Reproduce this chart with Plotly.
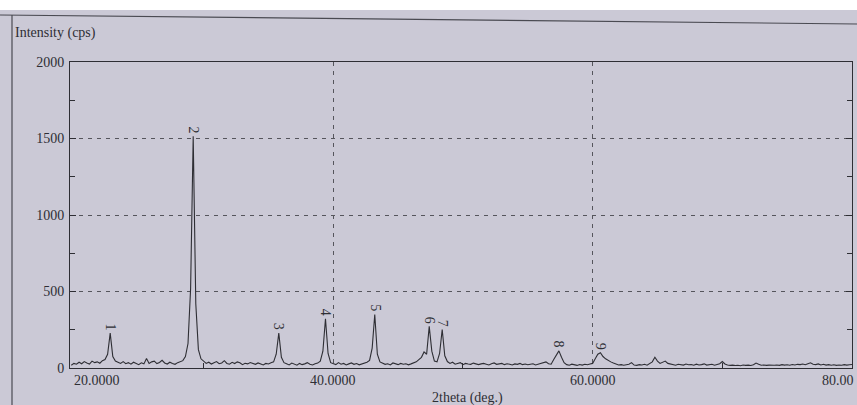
import numpy as np
import plotly.graph_objects as go

# ---------------- data ----------------
start_angle = 19.8   # first sampled 2theta (deg)
step_angle = 0.2     # sampling step (deg)

intensity = [
    # 19.8 - 22.0
    18, 30, 25, 38, 28, 42, 33, 26, 45, 35, 40, 31,
    # 22.2 - 23.4 (peak 1)
    48, 55, 90, 228, 75, 45, 38,
    # 23.6 - 28.4
    30, 42, 28, 35, 25, 38, 31, 22, 34, 27, 62, 30, 40, 45, 29, 36, 50, 33, 26, 38, 30, 24, 35, 40, 48,
    # 28.6 - 29.8 (peak 2)
    75, 160, 520, 1515, 420, 120, 60,
    # 30.0 - 35.4
    45, 30, 38, 26, 35, 42, 28, 33, 48, 30, 25, 37, 29, 40, 34, 22, 31, 27, 36, 30, 24, 33, 28, 20, 30, 26, 35, 40,
    # 35.6 - 36.2 (peak 3)
    90, 228, 70, 35,
    # 36.4 - 39.0
    28, 20, 32, 25, 18, 30, 22, 27, 35, 24, 20, 28, 32, 45,
    # 39.2 - 39.8 (peak 4)
    110, 322, 95, 35,
    # 40.0 - 42.8
    28, 22, 35, 25, 30, 20, 27, 33, 24, 29, 21, 26, 31, 38, 50,
    # 43.0 - 43.6 (peak 5)
    130, 350, 90, 40,
    # 43.8 - 46.6
    30, 24, 28, 20, 33, 26, 22, 30, 25, 28, 21, 27, 32, 40, 55,
    # 46.8 - 48.8 (peaks 6 and 7)
    70, 105, 90, 272, 110, 45, 40, 95, 252, 80, 42,
    # 49.0 - 56.8
    30, 38, 25, 28, 35, 22, 30, 26, 24, 32, 28, 22, 27, 30, 25, 20, 28, 33, 24, 26,
    30, 22, 28, 25, 20, 27, 24, 30, 22, 26, 21, 25, 28, 20, 24, 30, 35, 40, 28, 25,
    # 57.0 - 57.8 (peak 8)
    55, 80, 112, 70, 35,
    # 58.0 - 60.0
    22, 18, 25, 20, 17, 23, 19, 24, 21, 26, 30,
    # 60.2 - 61.6 (peak 9)
    60, 90, 100, 75, 60, 48, 40, 32,
    # 61.8 - 64.4
    25, 20, 22, 18, 21, 24, 35, 19, 17, 22, 20, 24, 18, 28,
    # 64.6 - 66.0
    40, 70, 45, 30, 35, 45, 30, 25,
    # 66.2 - 80.0
    20, 18, 24, 22, 19, 26, 21, 23, 18, 25, 20, 22, 27, 19, 21, 24, 18, 22, 28, 42,
    26, 20, 17, 19, 16, 18, 15, 20, 17, 19, 16, 21, 32, 24, 18, 20, 17, 19, 16, 18,
    20, 17, 22, 19, 21, 18, 23, 20, 24, 22, 26, 21, 28, 34, 25, 22, 27, 20, 24, 19,
    22, 18, 21, 17, 20, 18, 22, 19, 21, 23,
]
assert len(intensity) == 302, len(intensity)
two_theta = np.round(start_angle + step_angle * np.arange(len(intensity)), 2)

peak_numbers = ["1", "2", "3", "4", "5", "6", "7", "8", "9"]
peak_positions = [22.8, 29.2, 35.8, 39.4, 43.2, 47.4, 48.4, 57.4, 60.6]
peak_tops = [228, 1515, 228, 322, 350, 272, 252, 112, 100]

y_tick_vals = [0, 500, 1000, 1500, 2000]
y_tick_text = ["0", "500", "1000", "1500", "2000"]
x_grid_vals = [40, 60]
x_tick_vals = [20, 40, 60, 80]
x_tick_text = ["20.0000", "40.0000", "60.0000", "80.00"]   # last one cropped in the photo
x_tick_anchor = ["left", "center", "center", "right"]
x_tick_shift = [-2, 0, 0, 4]

# ---------------- styling ----------------
BG = "#cbc9d6"
INK = "#2e2e34"
SERIF = "Liberation Serif, DejaVu Serif, serif"

W, H = 857, 405
ML, MR, MT, MB = 70, 5, 62, 37
PW, PH = W - ML - MR, H - MT - MB


def px_x(px):
    return (px - ML) / PW


def px_y(py):
    return (H - MB - py) / PH


fig = go.Figure()
fig.add_trace(go.Scatter(
    x=two_theta, y=intensity, mode="lines",
    line=dict(color=INK, width=1.1), hoverinfo="x+y", showlegend=False,
))

annotations = []
for n, xp, yp in zip(peak_numbers, peak_positions, peak_tops):
    annotations.append(dict(
        x=xp, y=yp, xref="x", yref="y", text=n, textangle=90,
        showarrow=False, yanchor="bottom", xanchor="center", yshift=1,
        font=dict(family=SERIF, size=14, color=INK),
    ))
for v, t, a, s in zip(x_tick_vals, x_tick_text, x_tick_anchor, x_tick_shift):
    annotations.append(dict(
        x=v, y=px_y(380), xref="x", yref="paper", text=t, xanchor=a,
        yanchor="middle", showarrow=False, xshift=s,
        font=dict(family=SERIF, size=14, color=INK),
    ))
annotations.append(dict(
    x=px_x(13), y=px_y(33), xref="paper", yref="paper", text="Intensity (cps)",
    xanchor="left", yanchor="middle", showarrow=False,
    font=dict(family=SERIF, size=14, color=INK),
))
annotations.append(dict(
    x=px_x(467), y=px_y(398), xref="paper", yref="paper", text="2theta (deg.)",
    xanchor="center", yanchor="middle", showarrow=False,
    font=dict(family=SERIF, size=14, color=INK),
))

shapes = [
    # white paper edge at the top of the photo
    dict(type="rect", xref="paper", yref="paper", x0=px_x(-5), x1=px_x(W + 5),
         y0=px_y(10), y1=px_y(-5), fillcolor="white", line=dict(width=0), layer="above"),
    # outer frame lines of the printout
    dict(type="line", xref="paper", yref="paper", x0=px_x(0), x1=px_x(W),
         y0=px_y(15), y1=px_y(24), line=dict(color="#4a4a52", width=1.2)),
    dict(type="line", xref="paper", yref="paper", x0=px_x(12), x1=px_x(12),
         y0=px_y(15), y1=px_y(H + 5), line=dict(color="#4a4a52", width=1.2)),
]

fig.update_layout(
    width=W, height=H,
    margin=dict(l=ML, r=MR, t=MT, b=MB),
    paper_bgcolor=BG, plot_bgcolor=BG,
    showlegend=False,
    annotations=annotations, shapes=shapes,
    xaxis=dict(
        range=[19.7, 80.0], showticklabels=False,
        tickvals=x_grid_vals, ticks="",
        showgrid=True, gridcolor="#55555c", gridwidth=1, griddash="4px,5px",
        showline=True, linecolor=INK, linewidth=1, mirror=True,
        zeroline=False,
        minor=dict(tickvals=[30, 50, 70], ticks="inside", ticklen=5, tickcolor=INK, showgrid=False),
    ),
    yaxis=dict(
        range=[0, 2000], tickvals=y_tick_vals, ticktext=y_tick_text,
        ticks="inside", ticklen=6, tickcolor=INK,
        tickfont=dict(family=SERIF, size=14, color=INK),
        showgrid=True, gridcolor="#55555c", gridwidth=1, griddash="4px,5px",
        showline=True, linecolor=INK, linewidth=1, mirror="ticks",
        zeroline=False, ticklabelstandoff=2,
        minor=dict(tickvals=[250, 750, 1250, 1750], ticks="inside", ticklen=5, tickcolor=INK, showgrid=False),
    ),
)

fig.write_html(
    "out.html",
    config={"displayModeBar": False},
    post_script="document.body.style.margin='0';document.body.style.overflow='hidden';",
)
